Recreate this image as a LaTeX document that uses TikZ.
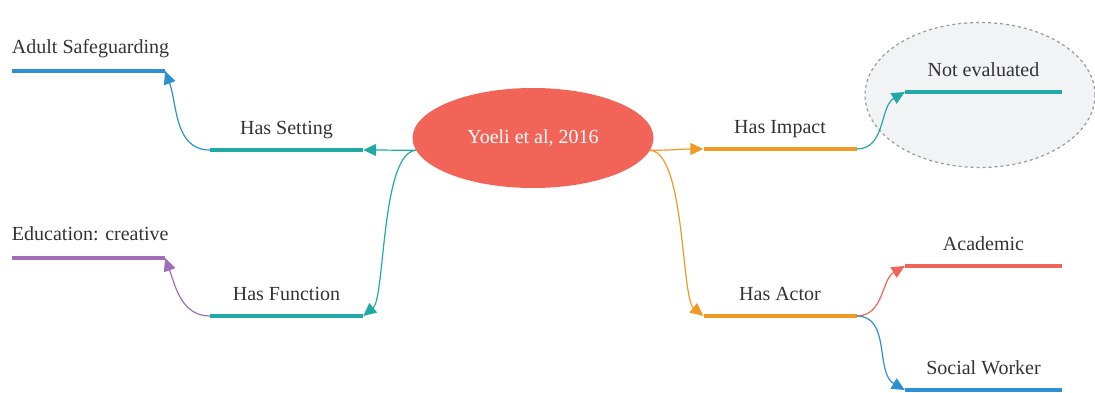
\documentclass[tikz,border=0pt]{standalone}
\usepackage{fontspec}
\setmainfont{Liberation Serif}
\usepackage{tikz}
\usetikzlibrary{arrows.meta,shapes.geometric}
\definecolor{mapteal}{HTML}{21A9A6}
\definecolor{mapblue}{HTML}{2E90D3}
\definecolor{mappurple}{HTML}{A06EB6}
\definecolor{maporange}{HTML}{EE9A25}
\definecolor{mapred}{HTML}{F26457}
\definecolor{mapink}{HTML}{333333}
\definecolor{mapcloud}{HTML}{F2F3F5}
\definecolor{mapdash}{HTML}{9A9A9A}

\begin{document}
\begin{tikzpicture}[x=1pt,y=-1pt,
  font=\rmfamily\fontsize{20}{23}\selectfont, text=mapink,
  label distance=13pt,
  every label/.style={inner sep=0pt},
  bar/.style={minimum width=153pt, minimum height=4.5pt, inner sep=0pt, fill=#1},
  wide/.style={minimum width=157pt},
  toptext/.style={label={[anchor=base]above:#1}},
  lefttext/.style={label={[anchor=base west,label distance=0pt,yshift=15pt]north west:#1}},
  link/.style={draw=#1, line width=1.2pt, -{Triangle[length=13pt,width=12pt]}},
  core/.style={ellipse, fill=mapred, text=white, minimum width=241pt, minimum height=100pt},
  frame/.style={ellipse, fill=mapcloud, draw=mapdash, dashed, line width=1.2pt, minimum width=230pt, minimum height=145pt}]
\useasboundingbox (0,0) rectangle (1095,393);

\node[frame] (cloud) at (980,95) {};
\node[core] (core) at (533,138) {Yoeli et al, 2016};

\node[bar=mapteal, toptext=Has Setting] (set) at (286.5,150) {};
\node[bar=mapteal, toptext=Has Function] (fn) at (286.5,316) {};
\node[bar=mapblue, lefttext=Adult Safeguarding] (safe) at (88.5,71) {};
\node[bar=mappurple, lefttext={Education: creative}] (edu) at (88.5,258) {};
\node[bar=maporange, toptext=Has Impact] (imp) at (780,149) {};
\node[bar=maporange, toptext=Has Actor] (act) at (780,316) {};
\node[bar=mapteal, wide, toptext=Not evaluated] (noev) at (983.5,92) {};
\node[bar=mapred, wide, toptext=Academic] (acad) at (983.5,266) {};
\node[bar=mapblue, wide, toptext=Social Worker] (soc) at (983.5,390) {};

\draw[link=mapteal] (core.186) to[out=180,in=0] (set.east);
\draw[link=mapteal] (core.186) .. controls +(-35,2) and +(22,-18) .. (fn.east);
\draw[link=maporange] (core.354) to[out=0,in=180] (imp.west);
\draw[link=maporange] (core.354) .. controls +(35,2) and +(-22,-18) .. (act.west);
\draw[link=mapblue] (set.west) to[out=180,in=-70] (safe.east);
\draw[link=mappurple] (fn.west) to[out=180,in=-70] (edu.east);
\draw[link=mapteal] (imp.east) to[out=0,in=210] (noev.west);
\draw[link=mapred] (act.east) to[out=0,in=210] (acad.west);
\draw[link=mapblue] (act.east) to[out=0,in=150] (soc.west);
\end{tikzpicture}
\end{document}
